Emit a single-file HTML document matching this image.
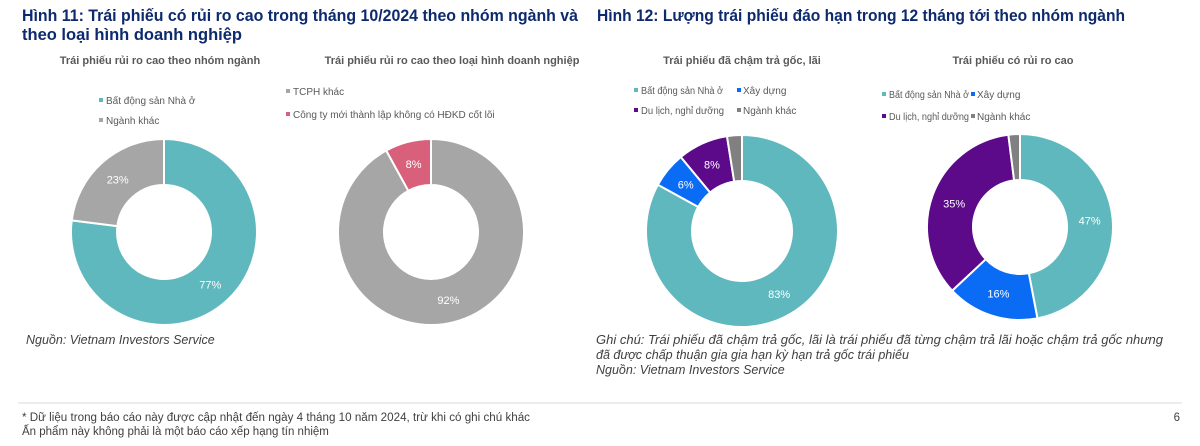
<!DOCTYPE html>
<html><head><meta charset="utf-8"><style>
body{margin:0;background:#fff;width:1200px;height:446px;overflow:hidden;font-family:"Liberation Sans",sans-serif;}
svg{position:absolute;left:0;top:0}
</style></head><body>
<svg id="s" width="1200" height="446" font-family="Liberation Sans, sans-serif">
<text x="22" y="21" font-size="17" font-weight="bold" fill="#0d2a6e" textLength="556" lengthAdjust="spacingAndGlyphs">Hình 11: Trái phiếu có rủi ro cao trong tháng 10/2024 theo nhóm ngành và</text>
<text x="22" y="40" font-size="17" font-weight="bold" fill="#0d2a6e" textLength="220" lengthAdjust="spacingAndGlyphs">theo loại hình doanh nghiệp</text>
<text x="597" y="21" font-size="17" font-weight="bold" fill="#0d2a6e" textLength="528" lengthAdjust="spacingAndGlyphs">Hình 12: Lượng trái phiếu đáo hạn trong 12 tháng tới theo nhóm ngành</text>
<g font-size="11" font-weight="bold" fill="#595959" text-anchor="middle">
<text x="160" y="64">Trái phiếu rủi ro cao theo nhóm ngành</text>
<text x="452" y="64">Trái phiếu rủi ro cao theo loại hình doanh nghiệp</text>
<text x="742" y="64">Trái phiếu đã chậm trả gốc, lãi</text>
<text x="1013" y="64">Trái phiếu có rủi ro cao</text>
</g>
<g font-size="10" fill="#595959">
<rect x="99" y="98" width="4" height="4" fill="#5fb8bd"/><text x="106" y="104">Bất động sản Nhà ở</text>
<rect x="99" y="118" width="4" height="4" fill="#a6a6a6"/><text x="106" y="124">Ngành khác</text>
<rect x="286" y="89" width="4" height="4" fill="#a6a6a6"/><text x="293" y="95">TCPH khác</text>
<rect x="286" y="112" width="4" height="4" fill="#d9607a"/><text x="293" y="118">Công ty mới thành lập không có HĐKD cốt lõi</text>
<rect x="634" y="88" width="4" height="4" fill="#5fb8bd"/><text x="641" y="94" textLength="82" lengthAdjust="spacingAndGlyphs">Bất động sản Nhà ở</text>
<rect x="737" y="88" width="4" height="4" fill="#0a6cf5"/><text x="743" y="94">Xây dựng</text>
<rect x="634" y="108" width="4" height="4" fill="#5c0a8a"/><text x="641" y="114" textLength="83" lengthAdjust="spacingAndGlyphs">Du lịch, nghỉ dưỡng</text>
<rect x="737" y="108" width="4" height="4" fill="#808080"/><text x="743" y="114">Ngành khác</text>
<rect x="882" y="92" width="4" height="4" fill="#5fb8bd"/><text x="889" y="98" textLength="80" lengthAdjust="spacingAndGlyphs">Bất động sản Nhà ở</text>
<rect x="971" y="92" width="4" height="4" fill="#0a6cf5"/><text x="977" y="98">Xây dựng</text>
<rect x="882" y="114" width="4" height="4" fill="#5c0a8a"/><text x="889" y="120" textLength="80" lengthAdjust="spacingAndGlyphs">Du lịch, nghỉ dưỡng</text>
<rect x="971" y="114" width="4" height="4" fill="#808080"/><text x="977" y="120">Ngành khác</text>
</g>
<g id="d"></g>
<g font-size="12.5" font-style="italic" fill="#404040">
<text x="26" y="344">Nguồn: Vietnam Investors Service</text>
<text x="596" y="344" textLength="567" lengthAdjust="spacingAndGlyphs">Ghi chú: Trái phiếu đã chậm trả gốc, lãi là trái phiếu đã từng chậm trả lãi hoặc chậm trả gốc nhưng</text>
<text x="596" y="359">đã được chấp thuận gia gia hạn kỳ hạn trả gốc trái phiếu</text>
<text x="596" y="374">Nguồn: Vietnam Investors Service</text>
</g>
<line x1="18" y1="403" x2="1182" y2="403" stroke="#d9d9d9"/>
<g font-size="11.5" fill="#404040">
<text x="22" y="421" textLength="508" lengthAdjust="spacingAndGlyphs">* Dữ liệu trong báo cáo này được cập nhật đến ngày 4 tháng 10 năm 2024, trừ khi có ghi chú khác</text>
<text x="22" y="435">Ấn phẩm này không phải là một báo cáo xếp hạng tín nhiệm</text>
<text x="1180" y="421" text-anchor="end">6</text>
</g>
</svg>
<script>
var g=document.getElementById('d'),NS='http://www.w3.org/2000/svg';
function donut(cx,cy,R,r,data){var a=0;data.forEach(function(d){var a0=a,a1=a+d[0]/100*2*Math.PI;a=a1;
function p(rr,t){return [cx+rr*Math.sin(t),cy-rr*Math.cos(t)];}
var L=(a1-a0)>Math.PI?1:0,P1=p(R,a0),P2=p(R,a1),P3=p(r,a1),P4=p(r,a0);
var e=document.createElementNS(NS,'path');
e.setAttribute('d','M'+P1+'A'+R+','+R+' 0 '+L+' 1 '+P2+'L'+P3+'A'+r+','+r+' 0 '+L+' 0 '+P4+'Z');
e.setAttribute('fill',d[1]);e.setAttribute('stroke','#fff');e.setAttribute('stroke-width','2');g.appendChild(e);
if(d[2]){var m=p((R+r)/2,(a0+a1)/2);var t=document.createElementNS(NS,'text');t.setAttribute('x',m[0]);t.setAttribute('y',m[1]+4);
t.setAttribute('text-anchor','middle');t.setAttribute('font-size','11');t.setAttribute('fill','#fff');t.textContent=d[2];g.appendChild(t);}});}
donut(164,232,93,47,[[77,'#5fb8bd','77%'],[23,'#a6a6a6','23%']]);
donut(431,232,93,47,[[92,'#a6a6a6','92%'],[8,'#d9607a','8%']]);
donut(742,231,96,50,[[83,'#5fb8bd','83%'],[6,'#0a6cf5','6%'],[8.5,'#5c0a8a','8%'],[2.5,'#808080','']]);
donut(1020,227,93,47,[[47,'#5fb8bd','47%'],[16,'#0a6cf5','16%'],[35,'#5c0a8a','35%'],[2,'#808080','']]);
</script>
</body></html>
